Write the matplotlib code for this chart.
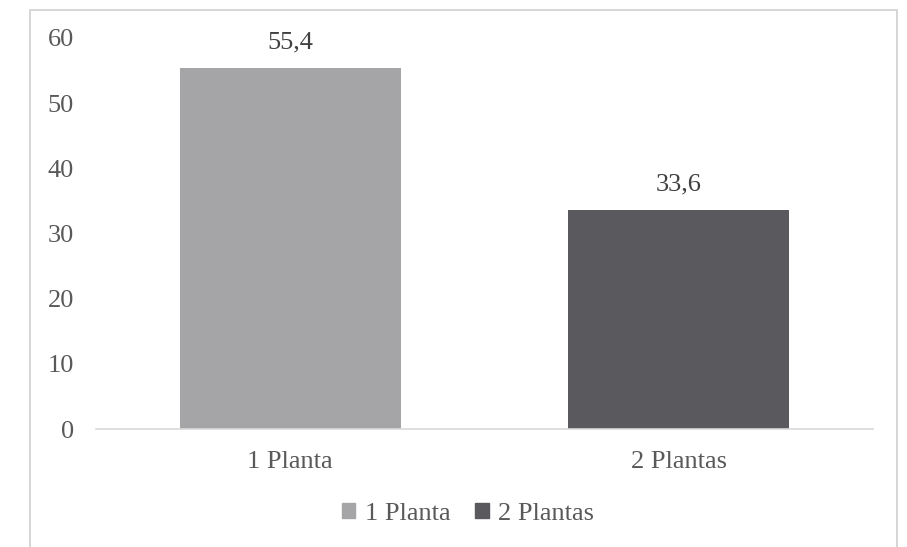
import matplotlib
matplotlib.use("Agg")
import matplotlib.pyplot as plt
import matplotlib.patches as mpatches

# dados
categorias = ["1 Planta", "2 Plantas"]
valores = [55.4, 33.6]
rotulos = ["55,4", "33,6"]
cores = ["#A5A5A8", "#5A595E"]
yticks = [0, 10, 20, 30, 40, 50, 60]

C_TXT = "#595959"
C_AXIS = "#D9D9D9"
FS = 19

plt.rcParams["font.family"] = ["Liberation Serif", "DejaVu Serif"]

W, H = 907, 547
fig = plt.figure(figsize=(W / 100, H / 100), dpi=100)
fig.patch.set_facecolor("white")

# moldura do gráfico (cortada embaixo)
fig.add_artist(mpatches.Rectangle((30 / W, -0.05), (897 - 30) / W, 1.05 - 10 / H,
                                  transform=fig.transFigure, fill=False,
                                  edgecolor="#D0D0D0", lw=1.2))

ax = fig.add_axes([96 / W, 1 - 429 / H, (873 - 96) / W, (429 - 38) / H])
x = range(len(categorias))
bars = ax.bar(x, valores, width=0.57, color=cores, label=categorias)

for b, r in zip(bars, rotulos):
    ax.text(b.get_x() + b.get_width() / 2, b.get_height() + 2.3, r,
            ha="center", va="bottom", fontsize=FS, color="#404040")

ax.set_xlim(-0.5, 1.5)
ax.set_ylim(0, 60)
ax.set_yticks(yticks)
ax.set_yticklabels([str(v) for v in yticks])
ax.set_xticks(list(x))
ax.set_xticklabels(categorias)
ax.tick_params(axis="both", length=0, labelsize=FS, labelcolor=C_TXT)
ax.tick_params(axis="y", pad=16)
ax.tick_params(axis="x", pad=16)

for s in ["top", "right", "left"]:
    ax.spines[s].set_visible(False)
ax.spines["bottom"].set_color(C_AXIS)
ax.spines["bottom"].set_linewidth(1.2)

handles = [mpatches.Patch(color=c) for c in cores]
leg = fig.legend(handles, categorias, loc="center", bbox_to_anchor=(468 / W, 1 - 514 / H),
                 ncol=2, frameon=False, fontsize=FS, handlelength=0.5, handleheight=0.5,
                 handletextpad=0.35, columnspacing=0.95)
for t in leg.get_texts():
    t.set_color(C_TXT)

fig.savefig("out.png", dpi=100, facecolor="white")
